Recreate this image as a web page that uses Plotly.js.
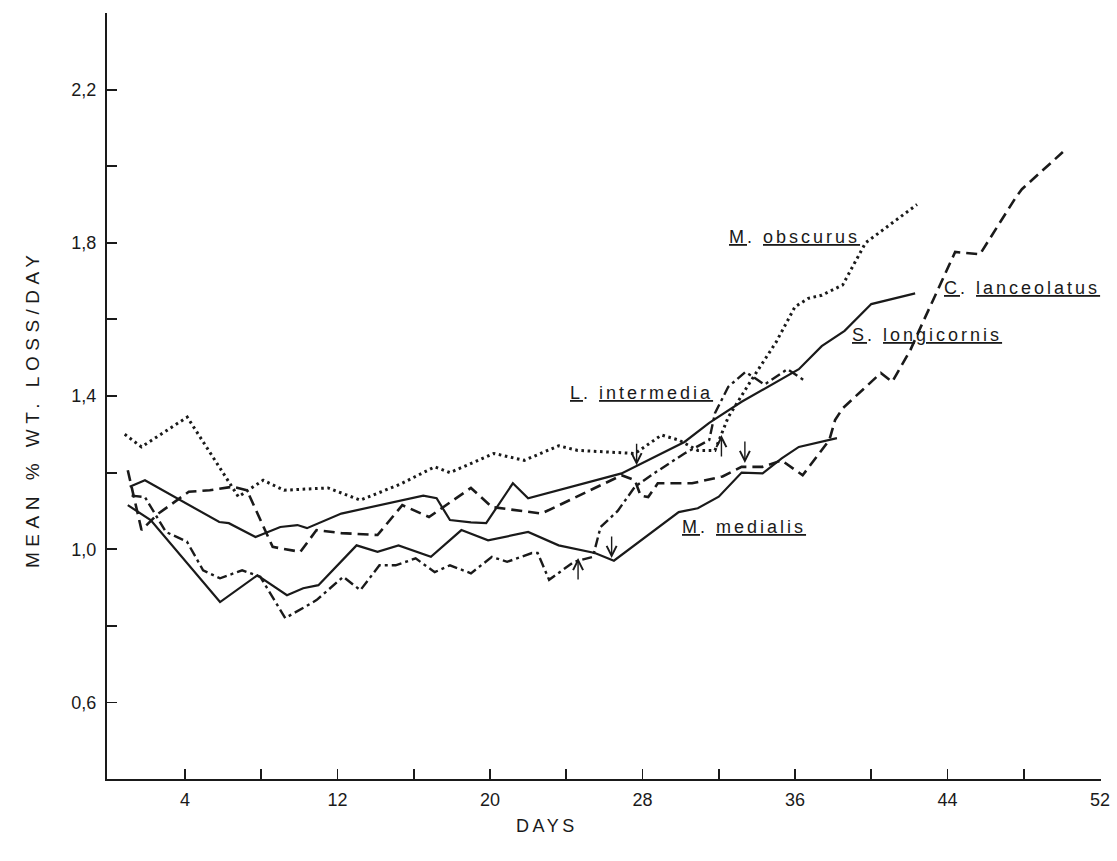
<!DOCTYPE html>
<html><head><meta charset="utf-8">
<script src="https://cdn.plot.ly/plotly-3.0.1.min.js"></script>
<style>html,body{margin:0;padding:0;background:#fff;} #chart{width:1117px;height:861px;}</style>
</head><body><div id="chart"></div>
<script>
// ---- data ----
const obscurusDays = [0.84, 1.72, 4.12, 6.8, 8.1, 9.2, 11.5, 13.2, 15.3, 17.1, 17.9, 20.2, 21.8, 23.6, 24.6, 27.6, 29.0, 29.9, 30.9, 31.8, 32.5, 33.6, 35.0, 36.0, 36.7, 37.4, 38.5, 39.7, 42.4];
const obscurusVals = [1.30, 1.267, 1.345, 1.137, 1.18, 1.154, 1.16, 1.128, 1.17, 1.215, 1.20, 1.25, 1.232, 1.27, 1.258, 1.25, 1.298, 1.285, 1.258, 1.258, 1.345, 1.433, 1.54, 1.633, 1.655, 1.663, 1.69, 1.80, 1.90];

const longicornisDays = [1.1, 1.9, 5.8, 6.3, 7.7, 9.0, 9.9, 10.4, 12.2, 14.3, 16.5, 17.2, 17.9, 19.0, 19.8, 21.2, 22.0, 26.9, 30.2, 31.5, 33.2, 36.2, 37.4, 38.6, 40.0, 42.3];
const longicornisVals = [1.163, 1.18, 1.071, 1.068, 1.032, 1.058, 1.063, 1.055, 1.093, 1.115, 1.14, 1.133, 1.076, 1.07, 1.068, 1.172, 1.133, 1.198, 1.28, 1.33, 1.385, 1.47, 1.53, 1.57, 1.64, 1.668];

const medialisDays = [1.0, 2.2, 5.84, 7.8, 9.35, 10.2, 11.0, 13.0, 14.1, 15.2, 16.9, 18.5, 19.9, 22.0, 23.6, 25.5, 26.5, 29.9, 30.9, 32.0, 33.2, 34.3, 35.3, 36.2, 38.2];
const medialisVals = [1.115, 1.076, 0.862, 0.932, 0.88, 0.898, 0.906, 1.01, 0.993, 1.01, 0.98, 1.05, 1.023, 1.045, 1.01, 0.99, 0.97, 1.097, 1.107, 1.137, 1.20, 1.198, 1.237, 1.267, 1.29];

const intermediaDays = [1.2, 1.9, 3.0, 4.1, 4.95, 5.84, 7.0, 7.95, 9.26, 10.9, 12.3, 13.2, 14.2, 15.05, 16.1, 17.1, 17.9, 19.0, 20.1, 20.9, 22.2, 22.5, 23.1, 24.4, 25.4, 25.8, 26.7, 27.6, 28.6, 30.2, 31.5, 31.8, 32.5, 33.4, 34.4, 35.6, 36.5];
const intermediaVals = [1.14, 1.136, 1.045, 1.02, 0.945, 0.924, 0.945, 0.928, 0.82, 0.867, 0.928, 0.893, 0.958, 0.958, 0.976, 0.94, 0.958, 0.937, 0.98, 0.967, 0.99, 0.99, 0.92, 0.967, 0.98, 1.058, 1.10, 1.163, 1.198, 1.25, 1.285, 1.355, 1.424, 1.463, 1.43, 1.47, 1.44];

const lanceolatusDays = [1.0, 1.72, 2.6, 4.2, 5.3, 6.5, 7.25, 8.6, 10.05, 10.9, 12.2, 14.1, 15.4, 16.8, 19.0, 20.1, 22.7, 26.9, 27.6, 27.9, 28.3, 28.8, 30.6, 32.2, 33.2, 34.3, 35.3, 36.4, 37.8, 38.1, 38.5, 40.5, 41.1, 42.05, 42.5, 44.4, 45.7, 47.6, 47.9, 50.05];
const lanceolatusVals = [1.206, 1.05, 1.093, 1.15, 1.154, 1.163, 1.154, 1.006, 0.993, 1.05, 1.042, 1.037, 1.115, 1.084, 1.16, 1.11, 1.093, 1.193, 1.18, 1.14, 1.136, 1.172, 1.172, 1.19, 1.215, 1.215, 1.232, 1.193, 1.285, 1.337, 1.368, 1.46, 1.437, 1.52, 1.57, 1.776, 1.77, 1.92, 1.94, 2.037];

// arrows marked on the curves
const arrowDays = [24.62, 26.38, 27.69, 32.14, 33.37];
const arrowVals = [0.977, 0.977, 1.219, 1.298, 1.225];
const arrowDirs = ['up', 'down', 'down', 'up', 'down'];

// species labels
const labelTexts = ['M. obscurus', 'C. lanceolatus', 'S. longicornis', 'L. intermedia', 'M. medialis'];
const labelDays = [32.42, 43.70, 38.87, 24.08, 29.96];
const labelVals = [1.815, 1.681, 1.559, 1.407, 1.057];

// ticks
const xTickVals = [4, 8, 12, 16, 20, 24, 28, 32, 36, 40, 44, 48, 52];
const xTickText = ['4', '', '12', '', '20', '', '28', '', '36', '', '44', '', '52'];
const yTickVals = [0.6, 0.8, 1.0, 1.2, 1.4, 1.6, 1.8, 2.0, 2.2, 2.4];
const yTickText = ['0,6', '', '1,0', '', '1,4', '', '1,8', '', '2,2', ''];

const xTitle = 'DAYS';
const yTitle = 'MEAN % WT. LOSS/DAY';

// ---- drawing ----
const ink = '#1a1a1a';
const fam = 'Liberation Sans, Arial, sans-serif';
function tr(x, y, dash, w) {
  return {x: x, y: y, type: 'scatter', mode: 'lines', hoverinfo: 'skip',
          line: {color: ink, width: w, dash: dash}, showlegend: false};
}
const data = [
  tr(obscurusDays, obscurusVals, '2.6px,3.6px', 3),
  tr(longicornisDays, longicornisVals, 'solid', 2.2),
  tr(medialisDays, medialisVals, 'solid', 2.2),
  tr(intermediaDays, intermediaVals, '10px,4px,3px,4px', 2.4),
  tr(lanceolatusDays, lanceolatusVals, '11px,6px', 2.6)
];

function ul(s) { return '<span style="text-decoration:underline">' + s + '</span>'; }
const annotations = [];
labelTexts.forEach((t, i) => {
  const parts = t.split('. ');
  annotations.push({
    x: labelDays[i], y: labelVals[i], xref: 'x', yref: 'y',
    xanchor: 'left', yanchor: 'middle', showarrow: false,
    text: '<span style="letter-spacing:3px">' + ul(parts[0]) + '.\u00a0' + ul(parts[1]) + '</span>',
    font: {family: fam, size: 18, color: ink}
  });
});
arrowDays.forEach((d, i) => {
  annotations.push({
    x: d, y: arrowVals[i], xref: 'x', yref: 'y', text: '',
    showarrow: true, arrowhead: 5, arrowsize: 1.4, arrowwidth: 1.4, arrowcolor: ink,
    ax: 0, ay: arrowDirs[i] === 'up' ? 23 : -23, standoff: 0
  });
});
annotations.push({
  xref: 'paper', yref: 'paper', x: -0.0755, y: 0.483, textangle: -90,
  xanchor: 'center', yanchor: 'middle', showarrow: false,
  text: '<span style="letter-spacing:5.5px">' + yTitle.replace(/ /g, '\u00a0') + '</span>',
  font: {family: fam, size: 19, color: ink}
});
annotations.push({
  xref: 'paper', yref: 'paper', x: 0.443, y: -0.062,
  xanchor: 'center', yanchor: 'middle', showarrow: false,
  text: '<span style="letter-spacing:3.5px">' + xTitle + '</span>',
  font: {family: fam, size: 18, color: ink}
});

const layout = {
  width: 1117, height: 861,
  margin: {l: 107, r: 16, t: 13, b: 82},
  paper_bgcolor: '#ffffff', plot_bgcolor: '#ffffff',
  font: {family: fam, color: ink, size: 18},
  xaxis: {
    range: [-0.09, 52.05], showgrid: false, zeroline: false,
    showline: true, linecolor: ink, linewidth: 2,
    ticks: 'inside', ticklen: 10, tickwidth: 1.8, tickcolor: ink,
    tickmode: 'array', tickvals: xTickVals, ticktext: xTickText,
    tickfont: {family: fam, size: 18, color: ink}, ticklabelstandoff: 3
  },
  yaxis: {
    range: [0.4, 2.4], showgrid: false, zeroline: false,
    showline: true, linecolor: ink, linewidth: 2,
    ticks: 'inside', ticklen: 10, tickwidth: 1.8, tickcolor: ink,
    tickmode: 'array', tickvals: yTickVals, ticktext: yTickText,
    tickfont: {family: fam, size: 18, color: ink}, ticklabelstandoff: 5
  },
  annotations: annotations
};
Plotly.newPlot('chart', data, layout, {displayModeBar: false, staticPlot: true});
</script>
</body></html>
